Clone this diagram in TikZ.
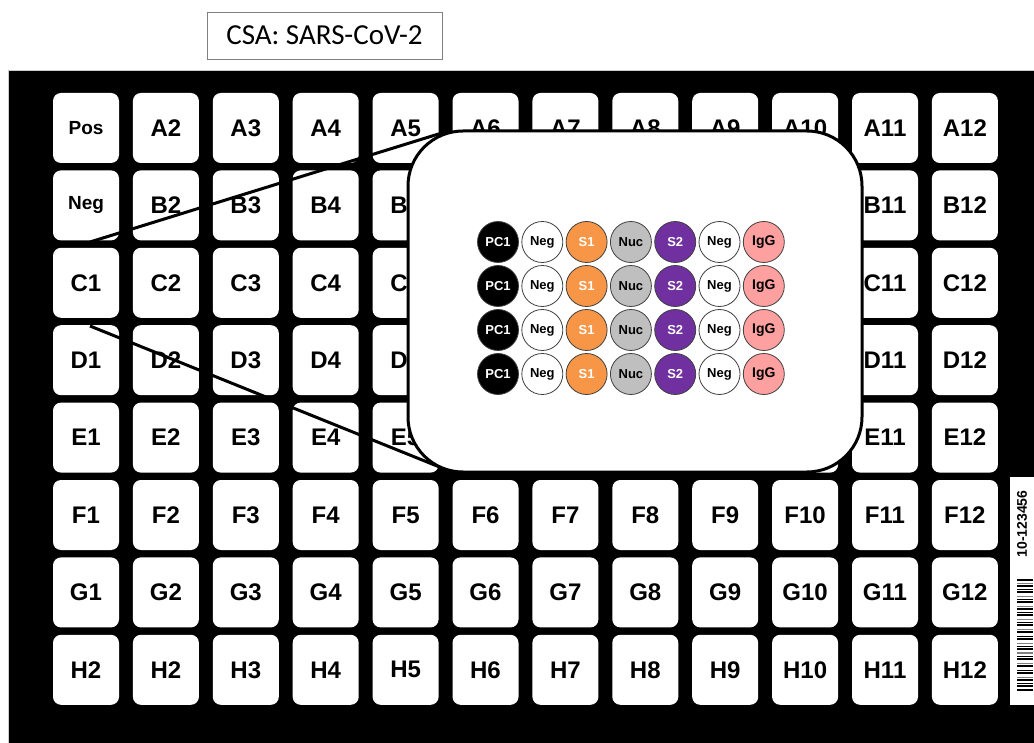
\documentclass[tikz,border=0pt]{standalone}
\usepackage{fontspec}
\setmainfont{Liberation Sans}
\newfontfamily\titlefont{Carlito}
\usetikzlibrary{positioning}
\definecolor{Frame}{HTML}{7F7F7F}
\definecolor{Edge}{HTML}{404040}
\definecolor{SpikeOne}{HTML}{F79646}
\definecolor{Nucleo}{HTML}{BFBFBF}
\definecolor{SpikeTwo}{HTML}{7030A0}
\definecolor{IgGpink}{HTML}{FFA0A0}

\begin{document}
\begin{tikzpicture}[x=1pt, y=-1pt,
  well/.style={fill=white, rounded corners=8pt, minimum width=66pt, minimum height=70pt, inner sep=0pt, font=\fontsize{24}{24}\selectfont\bfseries},
  ctrl/.style={font=\fontsize{19}{19}\selectfont\bfseries},
  plain/.style={},
  zoomline/.style={line width=3pt},
  spot/.style={circle, draw=Edge, line width=0.8pt, minimum size=41pt, inner sep=0pt, font=\fontsize{13}{13}\selectfont\bfseries},
  pc/.style={spot, fill=black, text=white},
  neg/.style={spot, fill=white},
  sone/.style={spot, fill=SpikeOne, text=white},
  nuc/.style={spot, fill=Nucleo},
  stwo/.style={spot, fill=SpikeTwo, text=white},
  igg/.style={spot, fill=IgGpink, font=\fontsize{14}{14}\selectfont\bfseries}]
  \useasboundingbox (0,0) rectangle (1034,743);
  % plate
  \fill[black] (8,70) rectangle (1034,743);
  \draw[gray!40] (8,743) -- (8,70) -- (1034,70);
  % wells, column 1 holds the controls
  \foreach \r/\t/\s [count=\i from 0] in {A/Pos/ctrl, B/Neg/ctrl, C/C1/plain, D/D1/plain, E/E1/plain, F/F1/plain, G/G1/plain, H/H2/plain}
    \node[well, \s] (\r1) at (86, {128+77.4*\i}) {\t};
  % wells B6..E10 lie wholly under the inset
  \foreach \r [count=\i from 0] in {A,B,C,D,E,F,G,H}
    \foreach \c in {2,...,12}{
      \pgfmathtruncatemacro\hid{and(and(\i>0,\i<5),and(\c>5,\c<11))}
      \node[well] (\r\c) at ({86+79.9*(\c-1)}, {128+77.4*\i}) {\ifnum\hid=1 \else\r\c\fi};
    }
  % zoom onto the inset
  \coordinate (zs) at (90,242);
  \coordinate (ze) at (90,326);
  \coordinate (zt) at (445,132);
  \coordinate (zb) at (447,470);
  \draw[zoomline] (zs) -- (zt);
  \draw[zoomline] (ze) -- (zb);
  \node[draw, line width=3pt, fill=white, rounded corners=55pt, minimum width=454pt, minimum height=341pt] (inset) at (635,301.5) {};
  % spots in the inset
  \foreach \i in {0,...,3}
    \foreach \sty/\lab [count=\j from 0] in {pc/PC1, neg/Neg, sone/S1, nuc/Nuc, stwo/S2, neg/Neg, igg/IgG}
      \node[\sty] (s\i\j) at ({498+44.3*\j}, {242+44*\i}) {\lab};
  % title
  \node[draw=Frame, line width=0.8pt, minimum width=235pt, minimum height=47pt, inner sep=0pt, font=\titlefont\fontsize{29}{29}\selectfont] (title) at (324.5,35.5) {CSA: SARS-CoV-2};
  % barcode label
  \node[fill=white, minimum width=26pt, minimum height=228pt, inner sep=0pt] (tag) at (1023,591) {};
  \node[rotate=90, font=\fontsize{14}{14}\selectfont\bfseries] (code) at (1022,524) {10-123456};
  \foreach \y/\w/\g in {580/2/black, 583.5/1/gray, 586/1.5/black, 589/1/black, 592/2.5/black, 596/1/gray, 599/1/black, 602/2/black, 606/1/gray, 609/1.5/black, 612/1/black, 615/2/black, 619/1/gray, 622/1/black, 625/2.5/black, 629/1/gray, 632/1.5/black, 636/1/black, 639/2/black, 643/1/gray, 646/1/black, 649/2/black, 653/1.5/gray, 656/1/black, 659/2/black, 663/1/gray, 666/1.5/black, 670/1/black, 673/2/black, 677/1/gray, 680/1.5/black, 683/1/black, 686/2/black, 690/1.5/black}
    \draw[line width=\w pt, \g] (1017,\y) -- (1033,\y);
\end{tikzpicture}
\end{document}
